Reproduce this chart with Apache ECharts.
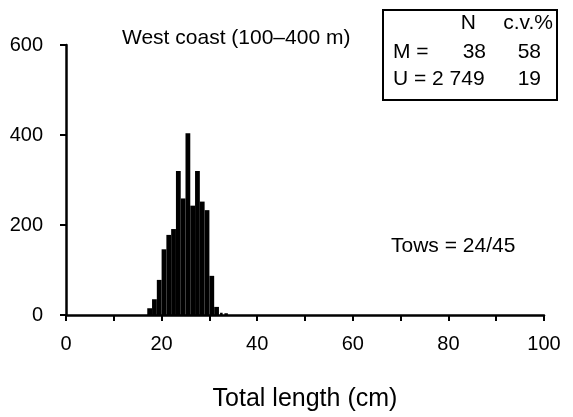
<!DOCTYPE html>
<html>
<head>
<meta charset="utf-8">
<script src="https://cdn.jsdelivr.net/npm/echarts@6/dist/echarts.min.js"></script>
<style>
  html, body { margin: 0; padding: 0; background: #fff; }
  #main { width: 573px; height: 417px; }
</style>
</head>
<body>
<div id="main"></div>
<script>
// length bins (cm, lower edge) and fish counts
var binStart = [17, 18, 19, 20, 21, 22, 23, 24, 25, 26, 27, 28, 29, 30, 31, 32, 33]
var counts = [15, 35, 78, 146, 178, 191, 320, 259, 404, 243, 320, 252, 233, 87, 18, 5, 3]

var xTickLabels = [0, 20, 40, 60, 80, 100]
var yTickLabels = [0, 200, 400, 600]

// summary box
var boxHeader = ['N', 'c.v.%']
var boxRows = [
  { label: 'M =', n: '38', cv: '58' },
  { label: 'U = 2 749', n: '', cv: '19' }
]

var FONT = '"Liberation Sans", Arial, Helvetica, sans-serif'

// one category per cm, 0..99, used only to place the bars
var binCats = []
for (var i = 0; i < 100; i++) binCats.push(String(i))

var chartObj = echarts.init(document.getElementById('main'))

function txt(x, y, text, align, size) {
  return {
    type: 'text',
    x: x,
    y: y,
    style: {
      text: text,
      fill: '#000',
      font: (size || 21) + 'px ' + FONT,
      textAlign: align || 'left',
      textVerticalAlign: 'middle'
    }
  }
}

var option = {
  animation: false,
  backgroundColor: '#fff',
  grid: {
    left: 66,
    right: 29,
    top: 45,
    bottom: 97
  },
  xAxis: [
    {
      type: 'value',
      min: 0,
      max: 100,
      interval: 10,
      name: 'Total length (cm)',
      nameLocation: 'middle',
      nameGap: 72,
      nameTextStyle: { color: '#000', fontSize: 25, fontFamily: FONT },
      axisLine: { lineStyle: { color: '#000', width: 2.5 } },
      axisTick: { length: 6, lineStyle: { color: '#000', width: 2 } },
      axisLabel: {
        color: '#000',
        fontSize: 20,
        fontFamily: FONT,
        margin: 19,
        formatter: function (v) {
          return xTickLabels.indexOf(v) >= 0 ? String(v) : ''
        }
      },
      splitLine: { show: false }
    },
    {
      type: 'category',
      data: binCats,
      boundaryGap: true,
      show: false
    }
  ],
  yAxis: {
    type: 'value',
    min: 0,
    max: 600,
    interval: 200,
    axisLine: { show: true, lineStyle: { color: '#000', width: 2.5 } },
    axisTick: { show: true, length: 6, lineStyle: { color: '#000', width: 2 } },
    axisLabel: {
      color: '#000',
      fontSize: 20,
      fontFamily: FONT,
      margin: 23,
      formatter: function (v) {
        return yTickLabels.indexOf(v) >= 0 ? String(v) : ''
      }
    },
    splitLine: { show: false }
  },
  series: [
    {
      type: 'bar',
      xAxisIndex: 1,
      barCategoryGap: '0%',
      data: binStart.map(function (b, i) { return [b, counts[i]] }),
      itemStyle: {
        color: '#fff',
        borderColor: '#000',
        borderWidth: 2.4
      }
    }
  ],
  graphic: [
    txt(122, 38, 'West coast (100\u2013400 m)', 'left', 21),
    txt(391, 246, 'Tows = 24/45', 'left', 21),
    {
      type: 'rect',
      shape: { x: 383, y: 10, width: 174, height: 90 },
      style: { fill: 'none', stroke: '#000', lineWidth: 2 }
    },
    txt(476, 23, boxHeader[0], 'right'),
    txt(553, 23, boxHeader[1], 'right'),
    txt(393, 52, boxRows[0].label, 'left'),
    txt(486, 52, boxRows[0].n, 'right'),
    txt(541, 52, boxRows[0].cv, 'right'),
    txt(393, 79, boxRows[1].label, 'left'),
    txt(541, 79, boxRows[1].cv, 'right')
  ]
}

chartObj.setOption(option, true)
</script>
</body>
</html>
